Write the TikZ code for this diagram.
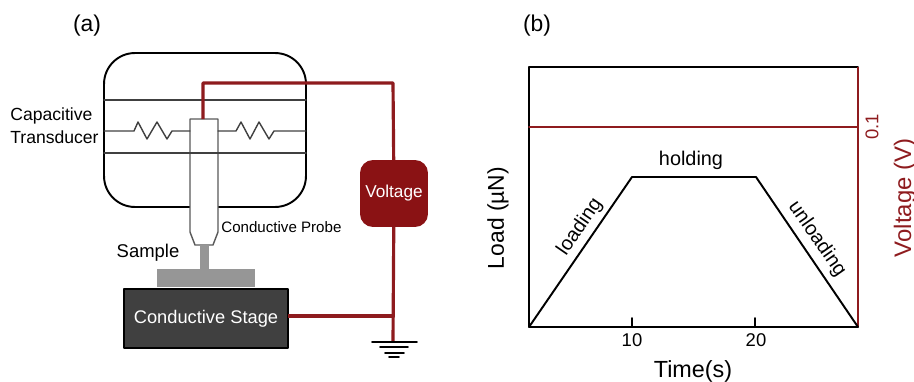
\documentclass[tikz,border=0pt]{standalone}
\usepackage{fontspec}
\setmainfont{Liberation Sans}
\definecolor{wirered}{HTML}{8E1B1E}
\definecolor{boxred}{HTML}{8A1214}
\definecolor{stagegray}{HTML}{404040}
\definecolor{samplegray}{HTML}{969696}
\newcommand{\fs}[1]{\fontsize{#1}{#1}\selectfont}
\tikzset{
	wire/.style={draw=wirered,line width=1.8pt},
	thinwire/.style={draw=black!75,line width=0.8pt},
	frame/.style={draw=black,line width=1.1pt},
	solid box/.style={inner sep=0pt,outer sep=0pt},
}
\begin{document}
\begin{tikzpicture}[line cap=round,line join=round,x=0.02cm,y=-0.02cm]
	\useasboundingbox (0,0) rectangle (914,382);
	\node at (87,26) {\fs{13}(a)};
	\node at (537,26) {\fs{13}(b)};
	% transducer
	\node[solid box,frame,rounded corners=0.62cm,minimum width=4.04cm,minimum height=3.08cm] (transducer) at (205,130) {};
	\draw[fill=white,draw=black!65,line width=0.8pt] (190,232)--(190,119)--(218,119)--(218,232)--(213,245)--(195,245)--cycle;
	\draw[thinwire] (104,100)--(306,100);
	\draw[thinwire] (104,153)--(306,153);
	\draw[thinwire] (104,131)--(134,131)--(138,122)--(147,139)--(157,122)--(167,139)--(172,131)--(190,131);
	\draw[thinwire] (218,131)--(236,131)--(241,122)--(250,139)--(259,122)--(269,139)--(274,131)--(306,131);
	\node[align=left,anchor=west,inner sep=0pt] (transducerlabel) at (10,125.5) {\fs{10}Capacitive\\[1pt]\fs{10}Transducer};
	\node[anchor=west,inner sep=0pt] (probelabel) at (221,227) {\fs{8.6}Conductive Probe};
	% sample and stage
	\node[solid box,fill=samplegray,minimum width=0.18cm,minimum height=0.5cm] (stem) at (204.5,257) {};
	\node[solid box,fill=samplegray,minimum width=1.96cm,minimum height=0.36cm] (sample) at (206,278) {};
	\node (samplelabel) at (148,253) {\fs{10.5}Sample};
	\node[solid box,fill=stagegray,draw=black,line width=0.9pt,text=white,minimum width=3.28cm,minimum height=1.18cm] (stage) at (206,318.5) {\fs{10.4}Conductive Stage};
	% circuit
	\node[solid box,fill=boxred,text=white,rounded corners=0.26cm,minimum width=1.36cm,minimum height=1.34cm] (voltage) at (394,193.5) {\fs{9.8}Voltage};
	\coordinate (probetop) at (203,119);
	\coordinate (corner) at (393,83);
	\coordinate (tap) at (393,316);
	\coordinate (gnd) at (393,342);
	\draw[wire,line cap=butt] (probetop)|-(corner)--(voltage);
	\draw[wire,line cap=butt] (voltage)--(gnd);
	\draw[wire,line cap=butt] (tap-|stage.east)--(tap);
	\draw[black,line width=1pt] (372,342)--(417,342) (380,347)--(408,347) (385,353)--(404,353) (389,357)--(399,357);
	% load curve
	\node[solid box,minimum width=6.58cm,minimum height=5.2cm] (plotbox) at (693.5,197) {};
	\draw[frame] (plotbox.north east)--(plotbox.north west)--(plotbox.south west)--(plotbox.south east);
	\draw[draw=wirered,line width=1.1pt,line cap=butt] (plotbox.north east)--(plotbox.south east);
	\coordinate (level) at (858,127);
	\draw[draw=wirered,line width=1.1pt] (level-|plotbox.west)--(level);
	\coordinate (rampend) at (632,177);
	\coordinate (holdend) at (756,177);
	\draw[frame] (plotbox.south west)--(rampend)--(holdend)--(plotbox.south east);
	\draw[frame] (632,318)--(632,327) (755,318)--(755,327);
	\node at (632,340) {\fs{10.5}10};
	\node at (756,340) {\fs{10.5}20};
	\node (holdinglabel) at (691,160) {\fs{11.3}holding};
	\node[rotate=55.5] (loadinglabel) at (580,227) {\fs{11.3}loading};
	\node[rotate=-55] (unloadinglabel) at (817,239) {\fs{11.3}unloading};
	\node at (693,371) {\fs{13.3}Time(s)};
	\node[rotate=90] (loadaxis) at (498,218) {\fs{13}Load (µN)};
	\node[rotate=90,text=wirered] (tenth) at (872,127) {\fs{10.5}0.1};
	\node[rotate=90,text=wirered] (voltageaxis) at (905,198) {\fs{13.6}Voltage (V)};
\end{tikzpicture}
\end{document}
